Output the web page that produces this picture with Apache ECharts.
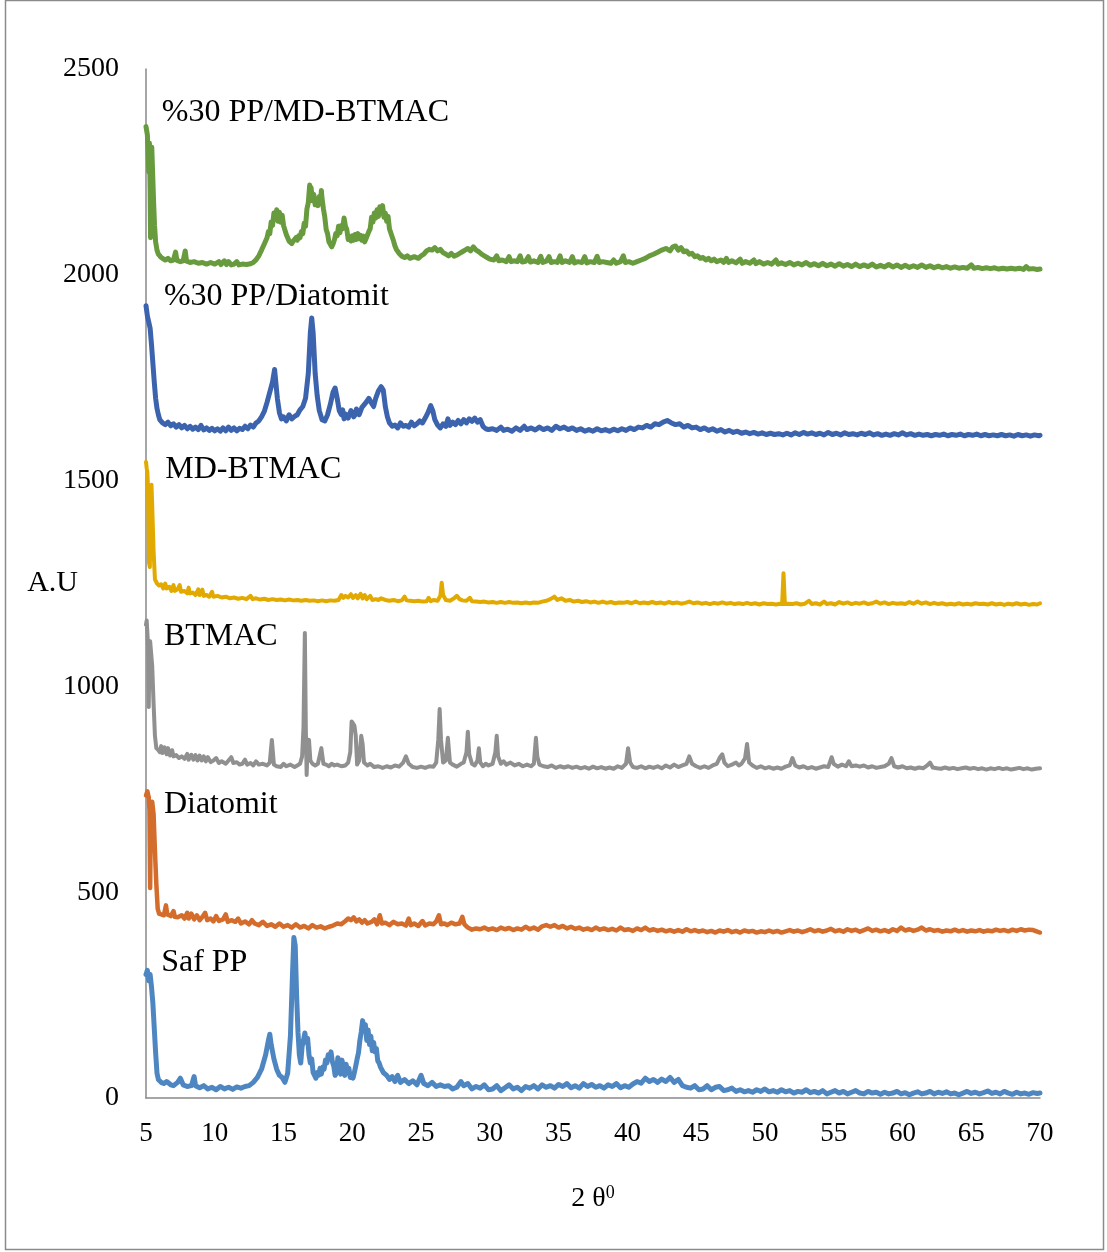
<!DOCTYPE html>
<html><head><meta charset="utf-8">
<script src="https://cdn.jsdelivr.net/npm/echarts@6/dist/echarts.min.js"></script>
<style>html,body{margin:0;padding:0;background:#fff}#c{width:1107px;height:1252px}</style>
</head><body><div id="c"></div>
<script>
// ---- data (2θ, intensity pairs) ----
const xTicks = [5,10,15,20,25,30,35,40,45,50,55,60,65,70];
const yTicks = [0,500,1000,1500,2000,2500];
const seriesNames = ['Saf PP','Diatomit','BTMAC','MD-BTMAC','%30 PP/Diatomit','%30 PP/MD-BTMAC'];
const seriesColors = ['#4e86c1','#d46c2b','#909090','#e2aa00','#3c63ad','#689a3e'];
const labelAt = [[6.1,330],[6.3,714],[6.3,1120],[6.4,1526],[6.3,1948],[6.15,2395]];

const sPP = [5.0,300,5.1,310,5.2,285,5.3,300,5.4,270,5.5,230,5.6,170,5.7,110,5.8,60,5.9,45,6.1,38,6.3,35,6.5,40,6.8,32,7.0,30,7.3,38,7.5,48,7.7,32,8.0,28,8.3,30,8.5,52,8.6,30,8.9,25,9.2,30,9.5,22,9.8,26,10.1,20,10.4,28,10.7,22,11.0,26,11.3,21,11.6,27,11.9,24,12.2,28,12.5,30,12.8,38,13.1,50,13.4,70,13.7,105,13.9,140,14.0,155,14.1,130,14.3,95,14.5,70,14.7,55,14.9,50,15.1,38,15.3,60,15.5,150,15.65,300,15.75,390,15.85,370,15.95,250,16.05,160,16.15,105,16.25,85,16.35,125,16.45,140,16.55,158,16.65,135,16.75,145,16.85,105,16.95,85,17.05,95,17.15,62,17.25,58,17.35,48,17.45,62,17.55,55,17.65,72,17.75,58,17.85,75,17.95,70,18.05,92,18.15,85,18.25,105,18.35,95,18.45,112,18.55,88,18.65,78,18.75,55,18.85,62,18.95,98,19.05,70,19.15,58,19.25,92,19.35,75,19.45,55,19.55,82,19.65,62,19.75,72,19.85,50,19.95,58,20.05,48,20.15,62,20.25,78,20.35,95,20.45,110,20.55,140,20.65,160,20.75,188,20.85,165,20.95,178,21.05,140,21.15,165,21.25,130,21.35,150,21.45,115,21.55,135,21.65,112,21.75,120,21.85,90,21.95,85,22.05,75,22.15,78,22.25,62,22.35,65,22.5,55,22.7,45,22.9,52,23.1,40,23.3,55,23.5,38,23.8,45,24.1,35,24.4,42,24.7,32,25.0,55,25.2,35,25.5,30,25.8,38,26.1,28,26.4,32,26.7,28,27.0,30,27.3,22,27.6,26,27.9,40,28.1,30,28.4,35,28.7,22,29.0,28,29.3,24,29.6,32,29.9,20,30.2,22,30.5,30,30.8,18,31.1,25,31.4,32,31.7,22,32.0,26,32.3,18,32.6,28,32.9,24,33.2,30,33.5,22,33.8,32,34.1,26,34.4,30,34.7,24,35.0,33,35.3,28,35.6,35,35.9,25,36.2,30,36.5,24,36.8,35,37.1,28,37.4,33,37.7,26,38.0,30,38.3,24,38.6,32,38.9,28,39.2,35,39.5,25,39.8,30,40.1,26,40.4,34,40.7,40,41.0,36,41.3,48,41.6,40,41.9,45,42.2,38,42.5,46,42.8,40,43.1,50,43.4,38,43.7,45,44.0,30,44.3,26,44.6,24,44.9,30,45.2,20,45.5,22,45.8,30,46.1,20,46.4,26,46.7,28,47.0,18,47.3,20,47.6,24,47.9,16,48.2,20,48.5,15,48.8,18,49.1,14,49.4,20,49.7,16,50.0,22,50.3,15,50.6,18,50.9,14,51.2,20,51.5,15,51.8,18,52.1,12,52.4,16,52.7,14,53.0,20,53.3,13,53.6,16,53.9,12,54.2,18,54.5,10,54.8,14,55.1,18,55.4,12,55.7,16,56.0,10,56.3,14,56.6,18,56.9,12,57.2,10,57.5,16,57.8,12,58.1,14,58.4,9,58.7,14,59.0,10,59.3,12,59.6,16,59.9,10,60.2,13,60.5,8,60.8,12,61.1,15,61.4,10,61.7,12,62.0,16,62.3,10,62.6,14,62.9,11,63.2,15,63.5,10,63.8,12,64.1,8,64.4,12,64.7,16,65.0,11,65.3,14,65.6,10,65.9,13,66.2,17,66.5,11,66.8,14,67.1,10,67.4,16,67.7,12,68.0,9,68.3,14,68.6,10,68.9,12,69.2,9,69.5,13,69.8,11,70.0,12];

const dia = [5.0,735,5.1,745,5.2,730,5.25,700,5.3,510,5.35,700,5.45,720,5.55,690,5.65,600,5.75,520,5.85,460,5.95,448,6.1,446,6.3,444,6.45,468,6.55,446,6.8,442,7.0,454,7.1,440,7.3,439,7.6,444,7.8,436,8.0,450,8.1,436,8.3,448,8.5,434,8.7,444,8.9,432,9.1,440,9.3,450,9.45,432,9.7,436,9.9,429,10.1,442,10.3,430,10.6,434,10.8,446,10.95,428,11.2,432,11.5,428,11.7,436,11.9,424,12.2,429,12.5,422,12.7,432,12.9,424,13.2,420,13.5,428,13.8,418,14.1,422,14.4,416,14.7,424,15.0,416,15.3,420,15.6,414,15.9,422,16.2,414,16.5,418,16.8,412,17.1,420,17.4,414,17.7,417,18.0,412,18.3,416,18.6,419,18.9,424,19.2,422,19.5,430,19.7,436,19.9,432,20.1,439,20.3,429,20.5,434,20.7,426,20.9,432,21.1,424,21.4,428,21.6,434,21.8,422,22.0,444,22.15,424,22.4,426,22.7,420,23.0,428,23.3,422,23.6,424,23.9,419,24.1,436,24.25,420,24.5,424,24.8,418,25.1,430,25.3,419,25.6,424,25.9,422,26.1,429,26.3,444,26.45,422,26.7,424,26.9,420,27.2,426,27.5,422,27.8,424,28.0,440,28.15,422,28.4,414,28.7,409,29.0,412,29.3,410,29.6,414,29.9,409,30.2,412,30.5,408,30.8,414,31.1,410,31.4,413,31.7,408,32.0,412,32.3,409,32.6,416,32.9,410,33.2,414,33.5,409,33.8,417,34.1,420,34.4,416,34.7,420,35.0,414,35.3,418,35.6,412,35.9,416,36.2,411,36.5,414,36.8,409,37.1,412,37.4,408,37.7,414,38.0,409,38.3,412,38.6,408,38.9,411,39.2,407,39.5,414,39.8,408,40.1,410,40.4,406,40.7,412,41.0,408,41.3,414,41.6,407,41.9,410,42.2,406,42.5,409,42.8,405,43.1,408,43.4,404,43.7,408,44.0,404,44.3,410,44.6,405,44.9,408,45.2,404,45.5,407,45.8,403,46.1,406,46.4,402,46.7,407,47.0,404,47.3,408,47.6,403,47.9,406,48.2,402,48.5,407,48.8,404,49.1,406,49.4,402,49.7,405,50.0,403,50.3,407,50.6,403,50.9,406,51.2,402,51.5,405,51.8,408,52.1,404,52.4,407,52.7,403,53.0,406,53.3,410,53.6,405,53.9,408,54.2,404,54.5,407,54.8,411,55.1,405,55.4,408,55.7,404,56.0,410,56.3,406,56.6,409,56.9,404,57.2,408,57.5,412,57.8,406,58.1,409,58.4,405,58.7,408,59.0,404,59.3,410,59.6,406,59.9,414,60.2,407,60.5,410,60.8,406,61.1,409,61.4,414,61.7,407,62.0,410,62.3,406,62.6,408,62.9,404,63.2,407,63.5,405,63.8,409,64.1,405,64.4,408,64.7,404,65.0,407,65.3,405,65.6,408,65.9,404,66.2,407,66.5,405,66.8,409,67.1,406,67.4,408,67.7,405,68.0,409,68.3,406,68.6,410,68.9,407,69.2,409,69.5,408,69.8,404,70.0,402];

const bt = [5.0,1150,5.05,1160,5.1,1130,5.15,1100,5.2,950,5.25,1080,5.3,1110,5.35,1090,5.45,1050,5.55,960,5.65,880,5.75,850,5.9,845,6.0,840,6.1,855,6.2,838,6.35,852,6.5,835,6.6,850,6.75,832,6.9,845,7.0,830,7.2,833,7.4,826,7.6,830,7.8,824,8.0,836,8.1,822,8.3,834,8.45,822,8.6,833,8.75,820,8.9,832,9.05,820,9.2,830,9.35,818,9.5,828,9.7,816,9.9,820,10.1,826,10.3,814,10.5,818,10.8,812,11.0,820,11.2,828,11.35,814,11.6,816,11.8,810,12.0,812,12.2,822,12.35,810,12.6,814,12.8,808,13.0,818,13.2,810,13.5,812,13.8,808,14.0,815,14.15,870,14.3,810,14.5,806,14.8,804,15.0,812,15.2,806,15.5,810,15.8,804,16.0,808,16.2,812,16.35,830,16.45,900,16.55,1130,16.62,900,16.68,785,16.75,860,16.85,870,16.95,820,17.1,812,17.3,808,17.5,812,17.75,850,17.9,812,18.1,810,18.3,806,18.5,812,18.7,808,18.9,810,19.2,806,19.5,808,19.7,815,19.85,840,19.95,915,20.05,910,20.15,905,20.25,880,20.35,810,20.5,820,20.65,880,20.75,860,20.85,815,21.1,808,21.3,812,21.6,804,21.9,806,22.2,802,22.5,806,22.8,803,23.1,808,23.4,805,23.7,815,23.9,830,24.1,812,24.4,804,24.7,802,25.0,805,25.3,802,25.6,806,25.9,805,26.1,815,26.25,870,26.35,945,26.45,870,26.6,815,26.8,820,26.95,875,27.1,815,27.3,810,27.6,805,27.9,812,28.1,815,28.3,840,28.4,890,28.5,835,28.7,812,28.9,808,29.1,820,29.2,850,29.3,815,29.5,806,29.7,812,29.9,808,30.2,812,30.4,840,30.5,880,30.6,830,30.8,812,31.0,818,31.2,810,31.5,815,31.8,808,32.1,812,32.4,806,32.7,810,33.0,806,33.2,812,33.35,875,33.45,830,33.6,810,33.9,806,34.2,804,34.5,808,34.8,802,35.1,806,35.4,803,35.7,806,36.0,802,36.3,805,36.6,801,36.9,804,37.2,800,37.5,805,37.8,801,38.1,804,38.4,800,38.7,803,39.0,800,39.3,806,39.6,802,39.9,812,40.05,850,40.2,815,40.4,804,40.7,802,41.0,806,41.3,801,41.6,805,41.9,802,42.2,806,42.5,801,42.8,808,43.1,803,43.4,810,43.7,804,44.0,808,44.3,812,44.5,830,44.7,812,45.0,806,45.3,802,45.6,806,45.9,802,46.2,808,46.5,812,46.7,826,46.9,835,47.05,815,47.3,806,47.6,810,47.9,815,48.1,808,48.3,812,48.55,825,48.7,860,48.85,815,49.1,808,49.4,802,49.7,806,50.0,801,50.3,804,50.6,800,50.9,803,51.2,800,51.5,805,51.8,808,52.0,826,52.2,808,52.5,803,52.8,806,53.1,801,53.4,804,53.7,800,54.0,803,54.3,806,54.6,804,54.85,828,55.0,812,55.3,805,55.6,810,55.9,806,56.1,818,56.3,806,56.6,808,56.9,805,57.2,808,57.5,803,57.8,806,58.1,802,58.4,804,58.7,806,59.0,812,59.2,826,59.4,806,59.7,803,60.0,806,60.3,801,60.6,803,60.9,800,61.2,803,61.5,801,61.8,808,62.0,815,62.2,803,62.5,801,62.8,800,63.1,803,63.4,800,63.7,802,64.0,799,64.3,801,64.6,803,64.9,800,65.2,802,65.5,799,65.8,801,66.1,798,66.4,801,66.7,799,67.0,802,67.3,799,67.6,801,67.9,798,68.2,800,68.5,802,68.8,799,69.1,801,69.4,798,69.7,800,70.0,801];

const md = [5.0,1545,5.05,1530,5.1,1520,5.15,1480,5.22,1300,5.28,1290,5.33,1470,5.4,1490,5.45,1440,5.55,1330,5.65,1260,5.8,1250,5.95,1245,6.1,1248,6.25,1238,6.4,1250,6.5,1238,6.7,1242,6.85,1232,7.0,1246,7.1,1232,7.3,1236,7.45,1246,7.55,1230,7.8,1232,8.0,1226,8.1,1240,8.2,1226,8.4,1228,8.6,1222,8.8,1236,8.9,1222,9.1,1235,9.2,1220,9.4,1222,9.6,1218,9.8,1230,9.9,1218,10.2,1220,10.5,1216,10.8,1218,11.1,1214,11.4,1216,11.7,1213,12.0,1215,12.3,1212,12.6,1220,12.75,1212,13.0,1214,13.3,1211,13.6,1213,13.9,1210,14.2,1212,14.5,1210,14.8,1211,15.1,1209,15.4,1211,15.7,1209,16.0,1210,16.3,1208,16.6,1210,16.9,1208,17.2,1209,17.5,1207,17.8,1209,18.1,1207,18.4,1209,18.7,1208,19.0,1210,19.2,1222,19.35,1215,19.5,1220,19.7,1216,19.9,1224,20.05,1215,20.25,1222,20.4,1214,20.6,1225,20.75,1214,20.9,1222,21.05,1212,21.3,1220,21.45,1210,21.7,1212,21.9,1210,22.1,1214,22.4,1210,22.7,1208,23.0,1210,23.3,1207,23.6,1209,23.8,1218,23.95,1209,24.2,1208,24.5,1207,24.8,1208,25.1,1206,25.4,1207,25.55,1215,25.7,1207,25.9,1210,26.2,1208,26.4,1220,26.5,1252,26.6,1222,26.8,1210,27.1,1208,27.4,1214,27.6,1220,27.8,1212,28.0,1209,28.3,1208,28.55,1215,28.7,1207,29.0,1206,29.3,1205,29.6,1206,29.9,1204,30.2,1205,30.5,1203,30.8,1205,31.1,1203,31.4,1205,31.7,1203,32.0,1204,32.3,1202,32.6,1204,32.9,1202,33.2,1204,33.5,1203,33.8,1206,34.1,1208,34.4,1212,34.7,1218,34.9,1210,35.2,1214,35.5,1208,35.8,1210,36.1,1206,36.4,1208,36.7,1205,37.0,1207,37.3,1204,37.6,1206,37.9,1203,38.2,1206,38.5,1203,38.8,1205,39.1,1202,39.4,1204,39.7,1203,40.0,1205,40.3,1202,40.6,1206,40.9,1202,41.2,1204,41.5,1202,41.8,1205,42.1,1202,42.4,1204,42.7,1201,43.0,1205,43.3,1202,43.6,1204,43.9,1201,44.2,1203,44.5,1206,44.8,1202,45.1,1204,45.4,1201,45.7,1203,46.0,1200,46.3,1203,46.6,1201,46.9,1204,47.2,1201,47.5,1203,47.8,1200,48.1,1202,48.4,1200,48.7,1203,49.0,1200,49.3,1202,49.6,1199,49.9,1202,50.2,1200,50.5,1201,50.8,1199,51.1,1201,51.25,1200,51.35,1275,51.45,1200,51.55,1196,51.7,1201,52.0,1200,52.3,1202,52.6,1199,52.9,1201,53.2,1208,53.4,1200,53.7,1202,54.0,1199,54.3,1206,54.5,1200,54.8,1202,55.1,1199,55.4,1205,55.7,1201,56.0,1204,56.3,1200,56.6,1203,56.9,1201,57.2,1204,57.5,1200,57.8,1202,58.1,1206,58.4,1201,58.7,1204,59.0,1200,59.3,1203,59.6,1201,59.9,1202,60.2,1200,60.5,1205,60.8,1201,61.1,1206,61.4,1201,61.7,1204,62.0,1200,62.3,1203,62.6,1200,62.9,1202,63.2,1199,63.5,1201,63.8,1199,64.1,1202,64.4,1199,64.7,1201,65.0,1199,65.3,1202,65.6,1200,65.9,1201,66.2,1199,66.5,1202,66.8,1199,67.1,1201,67.4,1198,67.7,1201,68.0,1199,68.3,1202,68.6,1199,68.9,1201,69.2,1198,69.5,1200,69.8,1199,70.0,1202];

const ppDia = [5.0,1925,5.1,1900,5.2,1885,5.3,1870,5.4,1830,5.5,1785,5.6,1740,5.7,1700,5.8,1675,5.9,1660,6.0,1648,6.2,1640,6.4,1636,6.6,1642,6.8,1633,7.0,1638,7.2,1630,7.4,1636,7.6,1628,7.8,1634,8.0,1626,8.2,1632,8.4,1625,8.6,1630,8.8,1624,9.0,1634,9.2,1623,9.4,1628,9.6,1622,9.8,1627,10.0,1621,10.2,1626,10.4,1620,10.6,1628,10.8,1621,11.0,1630,11.2,1622,11.4,1628,11.6,1621,11.8,1627,12.0,1624,12.2,1632,12.4,1626,12.6,1635,12.8,1630,13.0,1640,13.2,1645,13.4,1655,13.6,1668,13.8,1690,14.0,1715,14.2,1740,14.35,1770,14.45,1735,14.55,1700,14.7,1665,14.85,1650,15.0,1655,15.2,1645,15.4,1660,15.6,1650,15.8,1656,16.0,1660,16.2,1672,16.4,1680,16.6,1700,16.8,1760,16.95,1860,17.05,1895,17.15,1860,17.3,1760,17.45,1705,17.6,1670,17.8,1648,18.0,1645,18.2,1660,18.4,1685,18.6,1715,18.75,1725,18.9,1700,19.05,1670,19.2,1660,19.3,1672,19.4,1650,19.5,1662,19.6,1665,19.7,1652,19.8,1655,19.9,1670,20.0,1668,20.1,1655,20.2,1660,20.3,1674,20.4,1672,20.5,1660,20.6,1664,20.7,1678,20.8,1675,21.0,1690,21.2,1700,21.4,1688,21.55,1680,21.7,1700,21.9,1718,22.1,1728,22.25,1720,22.4,1680,22.55,1655,22.7,1640,22.9,1632,23.1,1635,23.3,1628,23.5,1640,23.7,1632,23.9,1634,24.1,1630,24.3,1642,24.5,1633,24.7,1638,24.9,1645,25.1,1640,25.3,1652,25.5,1665,25.7,1682,25.85,1670,26.0,1648,26.2,1635,26.4,1628,26.6,1638,26.8,1632,26.95,1650,27.1,1634,27.3,1642,27.5,1636,27.7,1646,27.9,1638,28.1,1648,28.3,1640,28.5,1650,28.7,1644,28.9,1652,29.1,1642,29.3,1648,29.5,1632,29.7,1626,29.9,1624,30.2,1626,30.5,1622,30.8,1630,31.0,1622,31.3,1625,31.6,1620,31.9,1628,32.2,1622,32.5,1632,32.7,1624,33.0,1628,33.3,1623,33.6,1630,33.9,1624,34.2,1628,34.5,1622,34.8,1632,35.1,1626,35.4,1630,35.7,1624,36.0,1628,36.3,1622,36.6,1626,36.9,1620,37.2,1624,37.5,1620,37.8,1626,38.1,1621,38.4,1624,38.7,1620,39.0,1625,39.3,1621,39.6,1626,39.9,1622,40.2,1628,40.5,1624,40.8,1630,41.1,1628,41.4,1634,41.7,1630,42.0,1638,42.3,1636,42.6,1642,42.9,1646,43.2,1640,43.5,1636,43.8,1638,44.1,1630,44.4,1634,44.7,1628,45.0,1630,45.3,1624,45.6,1628,45.9,1622,46.2,1626,46.5,1620,46.8,1624,47.1,1618,47.4,1622,47.7,1617,48.0,1620,48.3,1615,48.6,1618,48.9,1614,49.2,1617,49.5,1613,49.8,1616,50.1,1612,50.4,1615,50.7,1612,51.0,1614,51.3,1611,51.6,1615,51.9,1611,52.2,1616,52.5,1612,52.8,1617,53.1,1613,53.4,1616,53.7,1612,54.0,1615,54.3,1611,54.6,1617,54.9,1612,55.2,1615,55.5,1611,55.8,1616,56.1,1612,56.4,1614,56.7,1611,57.0,1615,57.3,1612,57.6,1616,57.9,1611,58.2,1614,58.5,1610,58.8,1613,59.1,1610,59.4,1614,59.7,1611,60.0,1616,60.3,1611,60.6,1614,60.9,1610,61.2,1613,61.5,1610,61.8,1612,62.1,1609,62.4,1612,62.7,1610,63.0,1613,63.3,1609,63.6,1612,63.9,1610,64.2,1613,64.5,1609,64.8,1612,65.1,1610,65.4,1613,65.7,1609,66.0,1612,66.3,1609,66.6,1611,66.9,1609,67.2,1612,67.5,1609,67.8,1611,68.1,1608,68.4,1612,68.7,1609,69.0,1611,69.3,1608,69.6,1611,69.9,1609,70.0,1610];

const ppMd = [5.0,2360,5.05,2350,5.1,2340,5.15,2300,5.2,2250,5.25,2320,5.3,2200,5.33,2090,5.37,2300,5.42,2310,5.48,2250,5.55,2180,5.62,2120,5.7,2080,5.8,2060,5.9,2050,6.05,2044,6.2,2040,6.4,2036,6.6,2040,6.8,2034,7.0,2036,7.15,2055,7.25,2035,7.5,2032,7.7,2034,7.85,2058,7.95,2033,8.2,2030,8.5,2032,8.8,2028,9.1,2030,9.4,2026,9.7,2030,10.0,2026,10.3,2032,10.45,2025,10.7,2034,10.85,2025,11.0,2032,11.2,2024,11.4,2026,11.6,2032,11.75,2024,12.0,2026,12.3,2025,12.6,2027,12.8,2030,13.0,2036,13.2,2046,13.4,2060,13.6,2075,13.8,2090,13.9,2105,14.0,2100,14.1,2128,14.2,2120,14.3,2150,14.4,2135,14.5,2158,14.6,2130,14.7,2152,14.8,2128,14.9,2145,15.0,2120,15.1,2118,15.2,2098,15.3,2095,15.4,2082,15.5,2086,15.6,2076,15.7,2082,15.8,2078,15.9,2090,16.0,2084,16.1,2095,16.2,2090,16.3,2105,16.4,2100,16.5,2125,16.6,2118,16.7,2160,16.8,2175,16.9,2218,16.95,2195,17.0,2212,17.1,2180,17.2,2195,17.3,2170,17.4,2185,17.5,2168,17.6,2190,17.7,2178,17.75,2205,17.8,2185,17.9,2160,18.0,2140,18.1,2110,18.2,2100,18.3,2080,18.4,2078,18.5,2068,18.6,2075,18.7,2085,18.8,2100,18.9,2095,19.0,2118,19.1,2102,19.2,2120,19.3,2112,19.4,2138,19.5,2118,19.6,2110,19.7,2086,19.8,2092,19.9,2082,20.0,2095,20.1,2084,20.2,2098,20.3,2086,20.4,2100,20.5,2088,20.6,2096,20.7,2084,20.8,2094,20.9,2080,21.0,2088,21.1,2084,21.2,2105,21.3,2112,21.4,2140,21.5,2128,21.6,2150,21.7,2138,21.8,2158,21.9,2142,22.0,2165,22.1,2150,22.2,2168,22.3,2140,22.4,2150,22.5,2130,22.6,2142,22.7,2112,22.8,2110,22.9,2092,23.0,2082,23.1,2070,23.2,2062,23.4,2052,23.6,2045,23.8,2042,24.0,2046,24.2,2040,24.5,2044,24.8,2040,25.0,2046,25.2,2050,25.4,2058,25.6,2062,25.8,2060,26.0,2066,26.2,2058,26.4,2062,26.6,2054,26.8,2050,27.0,2046,27.2,2052,27.4,2045,27.6,2048,27.8,2052,28.0,2056,28.2,2060,28.4,2064,28.6,2058,28.8,2068,29.0,2060,29.2,2056,29.4,2050,29.6,2046,29.8,2042,30.0,2038,30.3,2036,30.5,2046,30.65,2034,30.9,2036,31.2,2032,31.4,2044,31.55,2032,31.8,2034,32.0,2032,32.2,2046,32.35,2031,32.6,2033,32.8,2044,32.95,2031,33.2,2034,33.5,2030,33.7,2045,33.85,2030,34.1,2033,34.3,2044,34.45,2030,34.7,2032,34.9,2030,35.1,2046,35.25,2030,35.5,2034,35.8,2030,36.0,2044,36.15,2029,36.4,2032,36.7,2030,36.9,2044,37.05,2029,37.3,2032,37.6,2030,37.8,2045,37.95,2030,38.2,2032,38.5,2030,38.8,2028,39.0,2036,39.2,2028,39.5,2032,39.7,2046,39.85,2030,40.1,2032,40.4,2028,40.7,2032,41.0,2036,41.3,2040,41.6,2046,41.9,2050,42.2,2055,42.5,2060,42.8,2064,43.1,2058,43.3,2068,43.5,2070,43.7,2060,43.9,2066,44.1,2056,44.3,2058,44.5,2050,44.7,2052,44.9,2044,45.1,2046,45.3,2040,45.5,2042,45.7,2036,45.9,2040,46.1,2034,46.3,2038,46.5,2032,46.8,2036,47.0,2030,47.2,2040,47.35,2030,47.6,2034,47.9,2029,48.2,2038,48.35,2028,48.6,2032,48.9,2028,49.2,2036,49.35,2027,49.6,2032,49.9,2026,50.2,2030,50.5,2026,50.8,2036,50.95,2026,51.2,2029,51.5,2025,51.8,2030,52.1,2024,52.4,2028,52.7,2024,53.0,2030,53.3,2023,53.6,2027,53.9,2022,54.2,2028,54.5,2022,54.8,2026,55.1,2021,55.4,2027,55.7,2021,56.0,2025,56.3,2020,56.6,2026,56.9,2020,57.2,2024,57.5,2020,57.8,2026,58.1,2019,58.4,2023,58.7,2019,59.0,2025,59.3,2019,59.6,2024,59.9,2018,60.2,2023,60.5,2018,60.8,2022,61.1,2018,61.4,2024,61.7,2018,62.0,2022,62.3,2017,62.6,2021,62.9,2017,63.2,2020,63.5,2016,63.8,2019,64.1,2016,64.4,2018,64.7,2016,65.0,2024,65.2,2016,65.5,2018,65.8,2015,66.1,2017,66.4,2015,66.7,2017,67.0,2014,67.3,2016,67.6,2014,67.9,2016,68.2,2014,68.5,2016,68.8,2013,69.0,2020,69.2,2014,69.5,2015,69.8,2013,70.0,2014];

// ---- build chart ----
const FONT = "'Liberation Serif','Times New Roman',serif";
function pairs(a){const r=[];for(let i=0;i<a.length;i+=2)r.push([a[i],a[i+1]]);return r;}
const allData = [sPP, dia, bt, md, ppDia, ppMd];
const widths = [5, 4.5, 4, 4, 5, 5];

const series = allData.map((d,i)=>({
  name: seriesNames[i], type:'line', data: pairs(d), showSymbol:false, symbol:'none',
  lineStyle:{color:seriesColors[i], width:widths[i], join:'round', cap:'round'},
  itemStyle:{color:seriesColors[i]}, animation:false, z:2+i
}));
series.push({
  type:'scatter', symbolSize:0, animation:false, silent:true, z:20,
  itemStyle:{opacity:1},
  data: labelAt.map((p,i)=>({value:p, name:seriesNames[i]})),
  label:{show:true, position:'right', distance:0, formatter:p=>p.name,
         fontFamily:FONT, fontSize:32, color:'#000', opacity:1, textBorderWidth:0}
});

const chart = echarts.init(document.getElementById('c'), null, {renderer:'canvas'});
chart.setOption({
  backgroundColor:'#fff',
  animation:false,
  grid:{left:146, right:67, top:69, bottom:154, containLabel:false},
  xAxis:{
    type:'value', min:xTicks[0], max:xTicks[xTicks.length-1], interval:5,
    axisLine:{show:true, lineStyle:{color:'#898989', width:1.5}},
    axisTick:{show:false}, splitLine:{show:false},
    axisLabel:{fontFamily:FONT, fontSize:27, color:'#000', margin:22, formatter:v=>String(v)},
    name:'2 θ{s|0}', nameLocation:'middle', nameGap:86, nameMoveOverlap:false,
    nameTextStyle:{fontFamily:FONT, fontSize:28, color:'#000',
      rich:{s:{fontFamily:FONT, fontSize:18, color:'#000', verticalAlign:'top', padding:[0,0,12,0]}}}
  },
  yAxis:{
    type:'value', min:yTicks[0], max:yTicks[yTicks.length-1], interval:500,
    axisLine:{show:true, lineStyle:{color:'#898989', width:1.5}},
    axisTick:{show:false}, splitLine:{show:false},
    axisLabel:{fontFamily:FONT, fontSize:28, color:'#000', margin:27, formatter:v=>String(v)},
    name:'A.U', nameLocation:'middle', nameRotate:0, nameGap:68, nameMoveOverlap:false,
    nameTextStyle:{fontFamily:FONT, fontSize:30, color:'#000'}
  },
  graphic:[{type:'rect', shape:{x:5.5, y:0.5, width:1098, height:1249},
    style:{fill:'none', stroke:'#8a8a8a', lineWidth:1.5}, silent:true, z:100}],
  series: series
});
</script></body></html>
